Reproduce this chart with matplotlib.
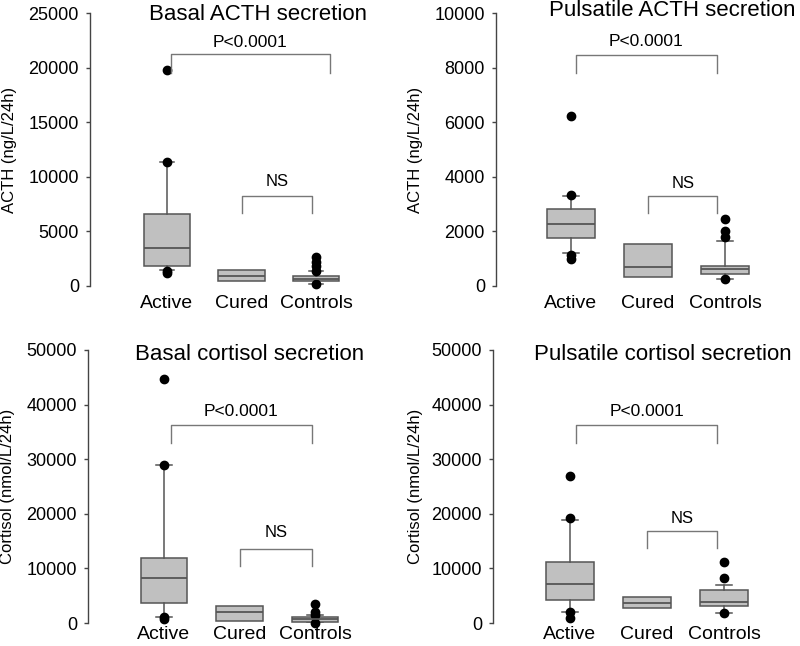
import numpy as np
import matplotlib
matplotlib.use("Agg")
import matplotlib.pyplot as plt

plt.rcParams['font.family'] = ['Liberation Sans', 'DejaVu Sans']

groups = ["Active", "Cured", "Controls"]

# box stats: (q1, median, q3, whisker low, whisker high, fliers)
basal_acth = [
    (1860, 3500, 6600, 1450, 11350, [19800, 11400, 1350, 1150]),
    (430, 950, 1460, None, None, []),
    (460, 640, 915, 180, 1400, [2650, 2200, 1830, 1400, 150]),
]
puls_acth = [
    (1760, 2285, 2810, 1200, 3300, [6230, 3330, 1150, 1000]),
    (345, 710, 1530, None, None, []),
    (430, 610, 745, 245, 1660, [2440, 2030, 1790, 250]),
]
basal_cort = [
    (3600, 8200, 11950, 1050, 28950, [44600, 29000, 1050, 700]),
    (430, 1950, 3170, None, None, []),
    (200, 730, 1160, 20, 1450, [3400, 2000, 1500, -50]),
]
puls_cort = [
    (4200, 7200, 11250, 2100, 18950, [26850, 19300, 2000, 1000]),
    (2750, 3650, 4700, None, None, []),
    (3170, 3800, 6100, 1850, 6950, [11250, 8250, 1850]),
]

titles = ["Basal ACTH secretion", "Pulsatile ACTH secretion",
          "Basal cortisol secretion", "Pulsatile cortisol secretion"]
ylabels = ["ACTH (ng/L/24h)", "ACTH (ng/L/24h)",
           "Cortisol (nmol/L/24h)", "Cortisol (nmol/L/24h)"]
ymax = [25000, 10000, 50000, 50000]
ystep = [5000, 2000, 10000, 10000]

# bracket (x left, x right, top, leg bottom, label y) in data units
p_brackets = [(1.05, 3.19, 21200, 19550, 22300),
              (1.06, 2.90, 8470, 7820, 8950),
              (1.09, 2.96, 36200, 33050, 38800),
              (1.08, 2.91, 36200, 33050, 38800)]
ns_brackets = [(2.0, 2.95, 8250, 6650, 9600),
               (2.0, 2.90, 3300, 2660, 3750),
               (2.0, 2.96, 13600, 10500, 16500),
               (2.0, 2.91, 16900, 13650, 19100)]

data = [basal_acth, puls_acth, basal_cort, puls_cort]

W, H = 800, 646
fig = plt.figure(figsize=(W / 100, H / 100), dpi=100)

# layout in pixels: spine x, active box x, px per unit, y of 0, y of max
layout = [(90, 167, 74.5, 286, 13),
          (496, 571, 77, 286, 13),
          (88, 164, 75.5, 623, 350),
          (493, 570, 77, 623, 350)]
title_pos = [(258, 14), (672, 11), (250, 355), (663, 355)]
ylab_x = [10, 415, 8, 415]
xpad = [6.5, 6.5, 2.5, 2.5]

edge = "#555555"
for i in range(4):
    x0, xa, s, yb, yt = layout[i]
    left = 1 - (xa - x0) / s
    width_px = 4.0 * s
    ax = fig.add_axes([x0 / W, 1 - yb / H, width_px / W, (yb - yt) / H])
    stats = []
    for q1, med, q3, wlo, whi, fl in data[i]:
        stats.append(dict(q1=q1, med=med, q3=q3,
                          whislo=q1 if wlo is None else wlo,
                          whishi=q3 if whi is None else whi,
                          fliers=fl))
    res = ax.bxp(stats, positions=[1, 2, 3], widths=0.62, capwidths=0.2,
                 patch_artist=True, showfliers=True,
                 boxprops=dict(facecolor="#c0c0c0", edgecolor=edge, linewidth=1.1),
                 medianprops=dict(color=edge, linewidth=1.3),
                 whiskerprops=dict(color=edge, linewidth=1.1),
                 capprops=dict(color=edge, linewidth=1.1),
                 flierprops=dict(marker="o", markerfacecolor="black",
                                 markeredgecolor="black", markersize=6))
    for k, st in enumerate(stats):
        if data[i][k][3] is None:
            res['whiskers'][2 * k].set_visible(False)
            res['whiskers'][2 * k + 1].set_visible(False)
            res['caps'][2 * k].set_visible(False)
            res['caps'][2 * k + 1].set_visible(False)
    for f in res['fliers']:
        f.set_clip_on(False)

    ax.set_xlim(left, left + 4.0)
    ax.set_ylim(0, ymax[i])
    ax.set_yticks(np.arange(0, ymax[i] + 1, ystep[i]))
    ax.set_xticks([1, 2, 3])
    ax.set_xticklabels(groups, fontsize=14)
    ax.tick_params(axis='x', length=0, pad=xpad[i])
    ax.tick_params(axis='y', length=3, width=1, pad=5, labelsize=13,
                   color="#444444")
    for sp in ["top", "right", "bottom"]:
        ax.spines[sp].set_visible(False)
    ax.spines["left"].set_color("#444444")
    ax.spines["left"].set_linewidth(1)
    ax.patch.set_alpha(0)

    bl, br, btop, bbot, ty = p_brackets[i]
    ax.plot([bl, bl, br, br], [bbot, btop, btop, bbot], color="#777777",
            linewidth=1, clip_on=False)
    ax.text((bl + br) / 2, ty, "P<0.0001", ha="center", va="center",
            fontsize=12.5)
    bl, br, btop, bbot, ty = ns_brackets[i]
    ax.plot([bl, bl, br, br], [bbot, btop, btop, bbot], color="#777777",
            linewidth=1, clip_on=False)
    ax.text((bl + br) / 2, ty, "NS", ha="center", va="center", fontsize=12)

    tx, tyy = title_pos[i]
    fig.text(tx / W, 1 - tyy / H, titles[i], ha="center", va="center",
             fontsize=16)
    fig.text(ylab_x[i] / W, 1 - ((yb + yt) / 2) / H, ylabels[i], rotation=90,
             ha="center", va="center", fontsize=12)

fig.savefig("out.png", dpi=100)
